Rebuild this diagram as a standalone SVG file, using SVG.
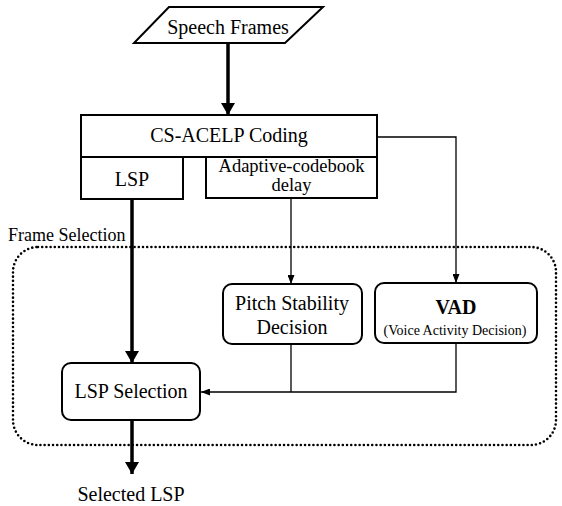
<svg xmlns="http://www.w3.org/2000/svg" width="562" height="506" viewBox="0 0 562 506">
<defs>
<style>
.box{fill:#fff;stroke:#000;stroke-width:2}
.t{font-family:"Liberation Serif","Times New Roman",serif;font-size:20px;fill:#000;text-anchor:middle}
.thick{stroke:#000;stroke-width:3.5;fill:none}
.thin{stroke:#000;stroke-width:1.3;fill:none}
.dots{fill:none;stroke:#000;stroke-width:2.6;stroke-linecap:round;stroke-dasharray:0 4.2}
</style>
<marker id="big" viewBox="0 0 12 14" refX="12" refY="7" markerWidth="12" markerHeight="14" markerUnits="userSpaceOnUse" orient="auto">
<path d="M0,0 L12,7 L0,14 Z" fill="#000"/>
</marker>
<marker id="small" viewBox="0 0 9 7" refX="9" refY="3.5" markerWidth="9" markerHeight="7" markerUnits="userSpaceOnUse" orient="auto">
<path d="M0,0 L9,3.5 L0,7 Z" fill="#000"/>
</marker>
</defs>
<rect width="562" height="506" fill="#fff"/>

<g id="frame-selection">
<rect class="dots" x="13" y="247" width="543" height="198" rx="25" ry="25"/>
<text class="t" x="8" y="241" style="text-anchor:start;font-size:18px">Frame Selection</text>
</g>

<g id="connectors">
<line class="thick" x1="228" y1="43" x2="228" y2="115" marker-end="url(#big)"/>
<line class="thick" x1="132" y1="199" x2="132" y2="363" marker-end="url(#big)"/>
<line class="thick" x1="132" y1="420" x2="132" y2="474" marker-end="url(#big)"/>
<line class="thin" x1="291" y1="198" x2="291" y2="284" marker-end="url(#small)"/>
<polyline class="thin" points="377,137 456,137 456,283" marker-end="url(#small)"/>
<line class="thin" x1="291" y1="344" x2="291" y2="392"/>
<polyline class="thin" points="456,343 456,392 201,392" marker-end="url(#small)"/>
</g>

<g id="speech-frames">
<polygon class="box" points="169,7 323,7 285,43 134,43"/>
<text class="t" x="228" y="34">Speech Frames</text>
</g>

<g id="cs-acelp">
<rect class="box" x="81" y="115" width="296" height="42"/>
<text class="t" x="229" y="142">CS-ACELP Coding</text>
</g>

<g id="lsp">
<rect class="box" x="81" y="157" width="102" height="42"/>
<text class="t" x="132" y="186">LSP</text>
</g>

<g id="adaptive">
<rect class="box" x="206" y="157" width="171" height="41"/>
<text class="t" x="291.5" y="172" style="font-size:18.5px">Adaptive-codebook</text>
<text class="t" x="291.5" y="191" style="font-size:18.5px">delay</text>
</g>

<g id="pitch">
<rect class="box" x="223" y="284" width="139" height="60" rx="9"/>
<text class="t" x="292" y="310">Pitch Stability</text>
<text class="t" x="292" y="334">Decision</text>
</g>

<g id="vad">
<rect class="box" x="375" y="283" width="162" height="60" rx="9"/>
<text class="t" x="456" y="314" style="font-weight:bold">VAD</text>
<text class="t" x="455" y="335" style="font-size:14px">(Voice Activity Decision)</text>
</g>

<g id="lsp-selection">
<rect class="box" x="62" y="363" width="138" height="57" rx="9"/>
<text class="t" x="131" y="398">LSP Selection</text>
</g>

<g id="selected-lsp">
<text class="t" x="131" y="501">Selected LSP</text>
</g>
</svg>
